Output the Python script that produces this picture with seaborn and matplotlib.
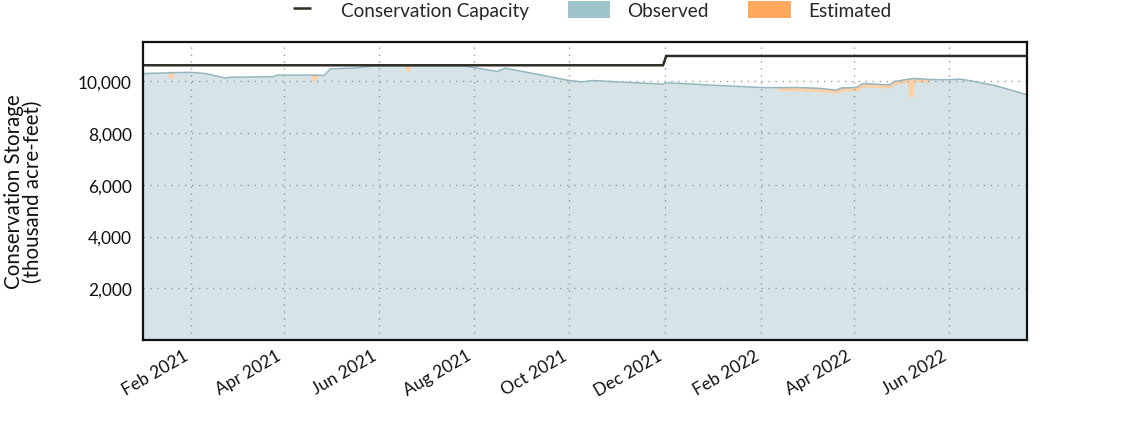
import numpy as np
import pandas as pd
import matplotlib
matplotlib.use("Agg")
import matplotlib.pyplot as plt
import matplotlib.dates as mdates
from matplotlib.ticker import FuncFormatter, FixedLocator
from matplotlib.lines import Line2D
from matplotlib.patches import Patch
import seaborn as sns

# ---------------- data ----------------
obs_dates = ["2021-01-01", "2021-01-25", "2021-02-01", "2021-02-10", "2021-02-23", "2021-02-26",
             "2021-03-25", "2021-03-28", "2021-04-15", "2021-04-27", "2021-05-01", "2021-05-18",
             "2021-05-29", "2021-07-25", "2021-08-01", "2021-08-16", "2021-08-21", "2021-09-08",
             "2021-10-01", "2021-10-09", "2021-10-16", "2021-11-30", "2021-12-02", "2022-01-01",
             "2022-02-03", "2022-02-24", "2022-03-11", "2022-03-21", "2022-03-24", "2022-04-03",
             "2022-04-07", "2022-04-24", "2022-04-27", "2022-05-09", "2022-05-20", "2022-06-01",
             "2022-06-08", "2022-06-16", "2022-07-01", "2022-07-21"]
obs_values = [10300, 10340, 10345, 10300, 10125, 10160,
              10175, 10240, 10240, 10230, 10480, 10520,
              10600, 10600, 10530, 10380, 10510, 10300,
              10030, 9980, 10030, 9890, 9945, 9850,
              9755, 9760, 9725, 9655, 9740, 9765,
              9910, 9860, 9990, 10110, 10070, 10060,
              10085, 10010, 9830, 9480]

est_segment = [1, 1, 1, 2, 2, 2, 3, 3, 3,
               4, 4, 4, 4, 4, 4, 4, 4, 4, 4, 4, 4, 4]
est_dates = ["2021-01-18", "2021-01-19", "2021-01-20",
             "2021-04-20", "2021-04-21", "2021-04-22",
             "2021-06-19", "2021-06-20", "2021-06-21",
             "2022-02-13", "2022-02-24", "2022-03-11", "2022-03-21", "2022-03-24", "2022-04-03",
             "2022-04-07", "2022-04-24", "2022-04-27", "2022-05-07", "2022-05-08", "2022-05-09",
             "2022-05-18"]
est_values = [10300, 10160, 10300,
              10200, 10080, 10200,
              10580, 10440, 10580,
              9700, 9700, 9665, 9595, 9680, 9705,
              9850, 9800, 9930, 10040, 9450, 10050,
              10020]

cap_dates = ["2021-01-01", "2021-11-30", "2021-12-02", "2022-07-21"]
cap_values = [10620, 10620, 10980, 10980]

y_ticks = [2000, 4000, 6000, 8000, 10000]
x_tick_dates = ["2021-02-01", "2021-04-01", "2021-06-01", "2021-08-01", "2021-10-01",
                "2021-12-01", "2022-02-01", "2022-04-01", "2022-06-01"]

obs = pd.DataFrame({"date": pd.to_datetime(obs_dates), "value": obs_values})
est = pd.DataFrame({"date": pd.to_datetime(est_dates), "value": est_values, "seg": est_segment})
cap = pd.DataFrame({"date": pd.to_datetime(cap_dates), "value": cap_values})

# ---------------- style ----------------
sns.set_theme(style="white")
plt.rcParams["font.family"] = ["Lato", "DejaVu Sans"]

fig = plt.figure(figsize=(11.4, 4.27), dpi=100)
ax = fig.add_axes([143 / 1140, 1 - 341 / 427, (1027 - 143) / 1140, (341 - 43) / 427])
ax.set_axisbelow(False)

fill_col = "#d6e4e8"
edge_col = "#93b6bf"
est_col = "#ffcfa6"

ax.fill_between(obs["date"], 0, obs["value"], color=fill_col, lw=0, zorder=1)
sns.lineplot(data=est, x="date", y="value", units="seg", estimator=None,
             color=est_col, lw=3.0, ax=ax, zorder=2, legend=False)
sns.lineplot(data=obs, x="date", y="value", color=edge_col, lw=1.1, ax=ax, zorder=3)
sns.lineplot(data=cap, x="date", y="value", color="#2e2e26", lw=1.8, ax=ax, zorder=4)

ax.set_xlim(pd.Timestamp("2021-01-01"), pd.Timestamp("2022-07-21"))
ax.set_ylim(0, 11520)

ax.yaxis.set_major_locator(FixedLocator(y_ticks))
ax.yaxis.set_major_formatter(FuncFormatter(lambda v, p: f"{int(v):,}"))
ax.xaxis.set_major_locator(FixedLocator(mdates.date2num(pd.to_datetime(x_tick_dates))))
ax.xaxis.set_major_formatter(mdates.DateFormatter("%b %Y"))

ax.tick_params(axis="both", labelsize=12.5, colors="#111111", length=0)
ax.tick_params(axis="y", pad=8)
ax.tick_params(axis="x", pad=5)
for lab in ax.get_xticklabels():
    lab.set_rotation(30)
    lab.set_ha("right")

ax.grid(True, color="#999999", linestyle=(0, (1, 4)), lw=1.0)
for gl in ax.get_xgridlines() + ax.get_ygridlines():
    gl.set_zorder(1.5)
for s in ax.spines.values():
    s.set_color("#111111")
    s.set_linewidth(1.6)
    s.set_zorder(6)

ax.set_xlabel("")
ax.set_ylabel("Conservation Storage\n(thousand acre-feet)", fontsize=14.8, color="#111111",
              linespacing=0.95, labelpad=25)

handles = [Line2D([0], [0], color="#2e2e26", marker="_", markersize=13, markeredgewidth=1.8,
                  linestyle="none"),
           Patch(facecolor="#a0c4cc", edgecolor="none"),
           Patch(facecolor="#ffa95c", edgecolor="none")]
labels = ["Conservation Capacity", "Observed", "Estimated"]
fig.legend(handles, labels, loc="upper center", bbox_to_anchor=(586 / 1140, 1.036), ncol=3,
           frameon=False, fontsize=13.7, handlelength=2.25, handleheight=1.0, numpoints=1,
           columnspacing=2.05, handletextpad=0.9)

fig.savefig("out.png", dpi=100)
